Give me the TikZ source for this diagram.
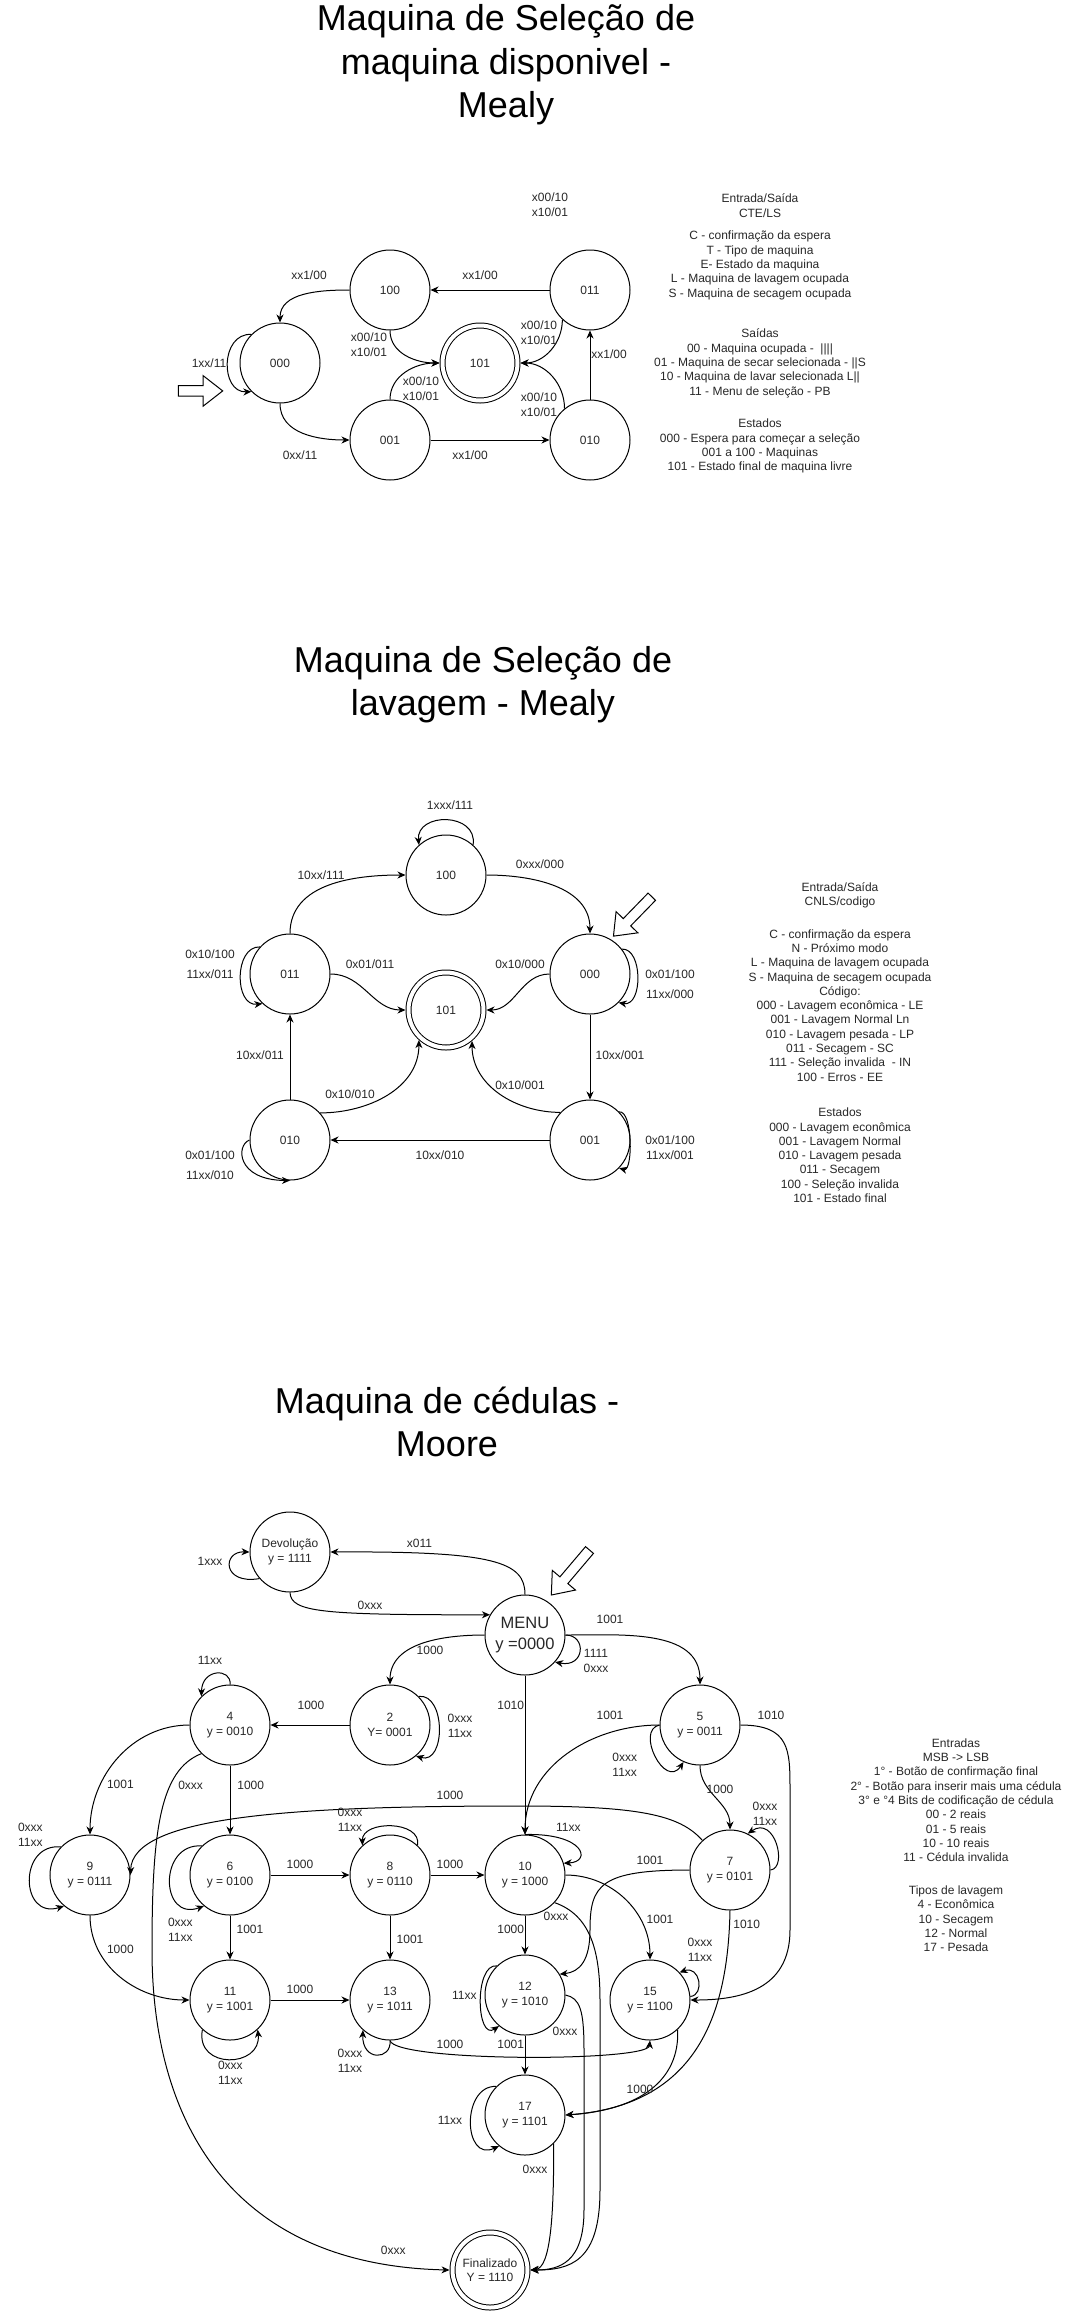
\documentclass[tikz,border=0pt]{standalone}
\usepackage{fontspec}
\setmainfont{Liberation Sans}
\usetikzlibrary{arrows.meta}
\definecolor{inkgray}{RGB}{40,40,40}

\tikzset{
  state/.style={circle, draw, line width=1pt, minimum size=80pt, inner sep=0pt,
    align=center, text=inkgray, font=\fontsize{12}{14.4}\selectfont},
  final/.style={state, minimum size=75pt, double, double distance=4pt, outer sep=3pt},
  lbl/.style={inner sep=0pt, align=center, text=inkgray, font=\fontsize{12}{15}\selectfont},
  legend/.style={inner sep=0pt, align=center, text=inkgray, font=\fontsize{12}{14.3}\selectfont},
  title/.style={inner sep=0pt, align=center, font=\fontsize{36}{43.5}\selectfont},
  trans/.style={line width=1pt, -{Stealth[length=8pt,width=7pt,inset=2.5pt]}},
  startarrow/.style={line width=1pt, line join=miter}
}

\begin{document}
\begin{tikzpicture}[x=1pt, y=1pt]
    \useasboundingbox (0,0) rectangle (1071,-2311);
    \fill[white] (0,0) rectangle (1071,-2311);

    % Maquina disponivel - Mealy
    \node[title] (title1) at (506,-65) {Maquina de Seleção de\\maquina disponivel -\\Mealy};
    \node[state] (s000) at (280,-363) {000};
    \node[state] (s100) at (390,-290) {100};
    \node[state] (s011) at (590,-290) {011};
    \node[final] (s101) at (480,-363) {101};
    \node[state] (s001) at (390,-440) {001};
    \node[state] (s010) at (590,-440) {010};

    \draw[trans] (s100.west) to[out=180,in=90] (s000.north);
    \draw[trans] (s011.west) -- (s100.east);
    \draw[trans] (s000.south) to[out=-90,in=180] (s001.west);
    \draw[trans] (s001.east) -- (s010.west);
    \draw[trans] (s010.north) -- (s011.south);
    \draw[trans] (s100.south) to[out=-90,in=180] (s101.west);
    \draw[trans] (s001.north) to[out=90,in=180] (s101.west);
    \draw[trans] (s011.-133) to[out=-90,in=0] (s101.east);
    \draw[trans] (s010.129) to[out=90,in=0] (s101.east);
    \draw[trans] (s000.135) .. controls (220,-333) and (220,-393) .. (s000.225);
    \draw[startarrow, shift={(178.3,-390.9)}] (0,5.2) -- (24.9,5.2) -- (24.9,15.2) -- (44.4,0)
        -- (24.9,-15.2) -- (24.9,-5.2) -- (0,-5.2) -- cycle;

    \node[lbl] (t-100-000) at (309,-275) {xx1/00};
    \node[lbl] (t-011-100) at (480,-275) {xx1/00};
    \node[lbl] (t-000-000) at (209,-363) {1xx/11};
    \node[lbl] (t-100-101) at (369,-345) {x00/10\\x10/01};
    \node[lbl] (t-001-101) at (421,-388.5) {x00/10\\x10/01};
    \node[lbl] (t-011-101) at (539,-333.2) {x00/10\\x10/01};
    \node[lbl] (t-010-101) at (539,-405.2) {x00/10\\x10/01};
    \node[lbl] (t-010-011) at (609,-354) {xx1/00};
    \node[lbl] (t-000-001) at (300,-455) {0xx/11};
    \node[lbl] (t-001-010) at (470,-455) {xx1/00};
    \node[lbl] (t-free) at (550,-205.2) {x00/10\\x10/01};

    \node[legend] (key1) at (760,-205.5) {Entrada/Saída\\CTE/LS};
    \node[legend] (key2) at (760,-265.4) {C - confirmação da espera\\T - Tipo de maquina\\E- Estado da maquina\\L - Maquina de lavagem ocupada\\S - Maquina de secagem ocupada};
    \node[legend] (key3) at (760,-363.4) {Saídas\\00 - Maquina ocupada - \ ||||\\01 - Maquina de secar selecionada - ||S\\10 - Maquina de lavar selecionada L||\\11 - Menu de seleção - PB};
    \node[legend] (key4) at (760,-446.2) {Estados\\000 - Espera para começar a seleção\\001 a 100 - Maquinas\\101 - Estado final de maquina livre};

    % Selecao de lavagem - Mealy
    \node[title] (title2) at (483,-684.5) {Maquina de Seleção de\\lavagem - Mealy};
    \node[state] (m100) at (446,-875) {100};
    \node[state] (m011) at (290,-974) {011};
    \node[state] (m000) at (590,-974) {000};
    \node[final] (m101) at (446,-1010) {101};
    \node[state] (m010) at (290,-1140) {010};
    \node[state] (m001) at (590,-1140) {001};

    \draw[trans] (m100.48) .. controls (478,-812) and (416,-812) .. (m100.132);
    \draw[trans] (m011.north) to[out=90,in=180] (m100.west);
    \draw[trans] (m100.east) to[out=0,in=90] (m000.north);
    \draw[trans] (m000.west) to[out=180,in=0] (m101.east);
    \draw[trans] (m011.east) to[out=0,in=180] (m101.west);
    \draw[trans] (m000.38) .. controls (643,-948) and (643,-1007) .. (m000.-45);
    \draw[trans] (m000.south) -- (m001.north);
    \draw[trans] (m001.137) to[out=180,in=-90] (m101.-50);
    \draw[trans] (m001.west) -- (m010.east);
    \draw[trans] (m010.north) -- (m011.south);
    \draw[trans] (m010.42) to[out=0,in=-90] (m101.-132);
    \draw[trans] (m011.138) .. controls (234,-946) and (234,-1007) .. (m011.227);
    \draw[trans] (m010.west) .. controls (236,-1145) and (236,-1180) .. (m010.south);
    \draw[trans] (m001.44) .. controls (633,-1110) and (633,-1172) .. (m001.-44);
    \draw[startarrow, shift={(651.8,-896.7)}, rotate=225.8] (0,5.2) -- (35.6,5.2) -- (35.6,15.2) -- (55,0)
        -- (35.6,-15.2) -- (35.6,-5.2) -- (0,-5.2) -- cycle;

    \node[lbl] (u-100-100) at (450,-805) {1xxx/111};
    \node[lbl] (u-011-100) at (321,-875) {10xx/111};
    \node[lbl] (u-100-000) at (540,-864) {0xxx/000};
    \node[lbl] (u-000-101) at (520,-964.3) {0x10/000};
    \node[lbl] (u-011-101) at (370,-964.3) {0x01/011};
    \node[lbl] (u-011-a) at (210,-954.3) {0x10/100};
    \node[lbl] (u-011-b) at (210,-974.3) {11xx/011};
    \node[lbl] (u-000-a) at (670,-974.3) {0x01/100};
    \node[lbl] (u-000-b) at (670,-994.3) {11xx/000};
    \node[lbl] (u-010-011) at (260,-1055) {10xx/011};
    \node[lbl] (u-000-001) at (620,-1055) {10xx/001};
    \node[lbl] (u-010-101) at (350,-1094) {0x10/010};
    \node[lbl] (u-001-101) at (520,-1085) {0x10/001};
    \node[lbl] (u-010-a) at (210,-1155) {0x01/100};
    \node[lbl] (u-010-b) at (210,-1175) {11xx/010};
    \node[lbl] (u-001-010) at (440,-1155) {10xx/010};
    \node[lbl] (u-001-a) at (670,-1140) {0x01/100};
    \node[lbl] (u-001-b) at (670,-1155) {11xx/001};

    \node[legend] (code1) at (840,-895.5) {Entrada/Saída\\CNLS/codigo};
    \node[legend] (code2) at (840,-1005.3) {C - confirmação da espera\\N - Próximo modo\\L - Maquina de lavagem ocupada\\S - Maquina de secagem ocupada\\Código:\\000 - Lavagem econômica - LE\\001 - Lavagem Normal Ln\\010 - Lavagem pesada - LP\\011 - Secagem - SC\\111 - Seleção invalida \ - IN\\100 - Erros - EE};
    \node[legend] (code3) at (840,-1155.3) {Estados\\000 - Lavagem econômica\\001 - Lavagem Normal\\010 - Lavagem pesada\\011 - Secagem\\100 - Seleção invalida\\101 - Estado final};

    % Maquina de cedulas - Moore
    \node[title] (title3) at (447,-1422) {Maquina de cédulas -\\Moore};
    \node[state] (dev) at (290,-1552) {Devolução\\y = 1111};
    \node[state, font=\fontsize{16.5}{20.5}\selectfont] (menu) at (525,-1635) {MENU\\y =0000};
    \node[state] (q2) at (390,-1725) {2\\Y= 0001};
    \node[state] (q4) at (230,-1725) {4\\y = 0010};
    \node[state] (q5) at (700,-1725) {5\\y = 0011};
    \node[state] (q7) at (730,-1870) {7\\y = 0101};
    \node[state] (q9) at (90,-1875) {9\\y = 0111};
    \node[state] (q6) at (230,-1875) {6\\y = 0100};
    \node[state] (q8) at (390,-1875) {8\\y = 0110};
    \node[state] (q10) at (525,-1875) {10\\y = 1000};
    \node[state] (q11) at (230,-2000) {11\\y = 1001};
    \node[state] (q13) at (390,-2000) {13\\y = 1011};
    \node[state] (q12) at (525,-1995) {12\\y = 1010};
    \node[state] (q15) at (650,-2000) {15\\y = 1100};
    \node[state] (q17) at (525,-2115) {17\\y = 1101};
    \node[final] (fin) at (490,-2270) {Finalizado\\Y = 1110};

    \draw[trans] (dev.221) .. controls (222,-1585) and (222,-1551) .. (dev.west);
    \draw[trans] (menu.north) .. controls (525,-1562) and (495,-1551) .. (dev.east);
    \draw[trans] (dev.south) .. controls (291,-1612) and (320,-1615) .. (menu.150);
    \draw[trans] (menu.west) to[out=180,in=90] (q2.north);
    \draw[trans] (menu.east) .. controls (587,-1635) and (585,-1668) .. (menu.-42);
    \draw[trans] (menu.east) to[out=0,in=90] (q5.north);
    \draw[trans] (menu.south) -- (q10.north);
    \draw[trans] (q2.west) -- (q4.east);
    \draw[trans] (q2.45) .. controls (446,-1693) and (446,-1765) .. (q2.-50);
    \draw[trans] (q4.north) .. controls (232,-1668) and (202,-1668) .. (q4.135);
    \draw[trans] (q5.west) .. controls (635,-1730) and (665,-1790) .. (q5.246);
    \draw[trans] (q5.west) to[out=180,in=90] (q10.north);
    \draw[trans] (q5.east) .. controls (790,-1725) and (790,-1750) .. (790,-1790) -- (790,-1930)
        .. controls (790,-1990) and (740,-2000) .. (q15.east);
    \draw[trans] (q5.south) to[out=-90,in=90] (q7.north);
    \draw[trans] (q7.east) .. controls (788,-1868) and (775,-1815) .. (q7.64);
    \draw[trans] (q7.133) .. controls (680,-1815) and (640,-1806) .. (520,-1806)
        .. controls (300,-1806) and (132,-1815) .. (q9.east);
    \draw[trans] (q7.west) .. controls (600,-1870) and (590,-1885) .. (590,-1930)
        .. controls (590,-1960) and (580,-1972) .. (q12.31);
    \draw[trans] (q7.south) .. controls (728,-2010) and (700,-2105) .. (q17.east);
    \draw[trans] (q15.-47) .. controls (680,-2080) and (640,-2110) .. (q17.east);
    \draw[trans] (q15.5) .. controls (705,-1995) and (700,-1965) .. (q15.43);
    \draw[trans] (q10.east) to[out=0,in=90] (q15.north);
    \draw[trans] (q10.north) .. controls (585,-1833) and (592,-1862) .. (q10.17);
    \draw[trans] (q10.-43) .. controls (590,-1915) and (600,-1950) .. (600,-2000) -- (600,-2190)
        .. controls (600,-2262) and (570,-2270) .. (fin.east);
    \draw[trans] (q10.south) -- (q12.north);
    \draw[trans] (q8.east) -- (q10.west);
    \draw[trans] (q6.east) -- (q8.west);
    \draw[trans] (q4.south) -- (q6.north);
    \draw[trans] (q4.west) to[out=180,in=90] (q9.north);
    \draw[trans] (q4.225) .. controls (160,-1770) and (152,-1830) .. (152,-1950)
        .. controls (152,-2120) and (230,-2265) .. (fin.west);
    \draw[trans] (q9.136) .. controls (18,-1843) and (20,-1920) .. (q9.230);
    \draw[trans] (q9.south) to[out=-90,in=180] (q11.west);
    \draw[trans] (q6.134) .. controls (158,-1843) and (160,-1922) .. (q6.230);
    \draw[trans] (q6.south) -- (q11.north);
    \draw[trans] (q11.east) -- (q13.west);
    \draw[trans] (q11.227) .. controls (195,-2070) and (262,-2068) .. (q11.-47);
    \draw[trans] (q8.47) .. controls (422,-1820) and (362,-1820) .. (q8.133);
    \draw[trans] (q8.south) -- (q13.north);
    \draw[trans] (q13.south) .. controls (392,-2060) and (362,-2062) .. (q13.228);
    \draw[trans] (q13.south) .. controls (395,-2062) and (648,-2062) .. (q15.south);
    \draw[trans] (q12.134) .. controls (474,-1963) and (476,-2042) .. (q12.230);
    \draw[trans] (q12.south) -- (q17.north);
    \draw[trans] (q12.east) .. controls (580,-1998) and (584,-2010) .. (584,-2050) -- (584,-2210)
        .. controls (584,-2262) and (560,-2270) .. (fin.east);
    \draw[trans] (q17.135) .. controls (461,-2085) and (463,-2163) .. (q17.230);
    \draw[trans] (q17.-45) .. controls (554,-2220) and (550,-2268) .. (fin.east);
    \draw[startarrow, shift={(589.5,-1550)}, rotate=229.7] (0,5.2) -- (39.6,5.2) -- (39.6,15.2) -- (59,0)
        -- (39.6,-15.2) -- (39.6,-5.2) -- (0,-5.2) -- cycle;

    \node[lbl] (c-dev-dev) at (210,-1561) {1xxx};
    \node[lbl] (c-menu-dev) at (419.5,-1543) {x011};
    \node[lbl] (c-dev-menu) at (370,-1605) {0xxx};
    \node[lbl] (c-menu-2) at (430,-1650) {1000};
    \node[lbl] (c-menu-5) at (610,-1619) {1001};
    \node[lbl] (c-menu-a) at (596,-1653) {1111};
    \node[lbl] (c-menu-b) at (596,-1668) {0xxx};
    \node[lbl] (c-4-4) at (210,-1660) {11xx};
    \node[lbl] (c-2-4) at (311,-1705) {1000};
    \node[lbl] (c-2-2) at (460,-1725.5) {0xxx\\11xx};
    \node[lbl] (c-menu-10) at (510.7,-1705) {1010};
    \node[lbl] (c-5-10) at (610,-1715) {1001};
    \node[lbl] (c-5-15) at (771,-1715) {1010};
    \node[lbl] (c-5-5) at (624.7,-1765.2) {0xxx\\11xx};
    \node[lbl] (c-4-fin) at (190.6,-1785) {0xxx};
    \node[lbl] (c-4-6) at (250.7,-1785) {1000};
    \node[lbl] (c-4-9) at (120.4,-1784.3) {1001};
    \node[lbl] (c-5-7) at (720,-1789.3) {1000};
    \node[lbl] (c-7-9) at (450,-1795) {1000};
    \node[lbl] (c-8-8) at (350,-1820.2) {0xxx\\11xx};
    \node[lbl] (c-9-9) at (30.4,-1835.2) {0xxx\\11xx};
    \node[lbl] (c-7-7) at (765,-1814.2) {0xxx\\11xx};
    \node[lbl] (c-10-10) at (568.3,-1827.7) {11xx};
    \node[lbl] (c-7-12) at (650,-1860) {1001};
    \node[lbl] (c-6-8) at (300,-1864.3) {1000};
    \node[lbl] (c-8-10) at (450,-1864.3) {1000};
    \node[lbl] (c-6-6) at (180.4,-1930.2) {0xxx\\11xx};
    \node[lbl] (c-6-11) at (250,-1929.3) {1001};
    \node[lbl] (c-10-12) at (510.7,-1929.3) {1000};
    \node[lbl] (c-10-fin) at (556,-1916.7) {0xxx};
    \node[lbl] (c-10-15) at (660,-1919.3) {1001};
    \node[lbl] (c-7-17) at (746.7,-1924) {1010};
    \node[lbl] (c-8-13) at (410,-1939.3) {1001};
    \node[lbl] (c-15-15) at (700,-1950) {0xxx\\11xx};
    \node[lbl] (c-9-11) at (120.4,-1949.3) {1000};
    \node[lbl] (c-11-13) at (300,-1989.3) {1000};
    \node[lbl] (c-12-12) at (464.3,-1995) {11xx};
    \node[lbl] (c-12-fin) at (565,-2031) {0xxx};
    \node[lbl] (c-13-15) at (450,-2044.3) {1000};
    \node[lbl] (c-12-17) at (510.7,-2044.3) {1001};
    \node[lbl] (c-13-13) at (350,-2060.8) {0xxx\\11xx};
    \node[lbl] (c-11-11) at (230.4,-2073.2) {0xxx\\11xx};
    \node[lbl] (c-15-17) at (640,-2089.3) {1000};
    \node[lbl] (c-17-17) at (450,-2120) {11xx};
    \node[lbl] (c-17-fin) at (535,-2169.3) {0xxx};
    \node[lbl] (c-4-fin-b) at (393.3,-2250) {0xxx};

    \node[legend] (cash1) at (956,-1800.2) {Entradas\\MSB -> LSB\\1° - Botão de confirmação final\\2° - Botão para inserir mais uma cédula\\3° e °4 Bits de codificação de cédula\\00 - 2 reais\\01 - 5 reais\\10 - 10 reais\\11 - Cédula invalida};
    \node[legend] (cash2) at (956,-1918.8) {Tipos de lavagem\\4 - Econômica\\10 - Secagem\\12 - Normal\\17 - Pesada};
\end{tikzpicture}
\end{document}
